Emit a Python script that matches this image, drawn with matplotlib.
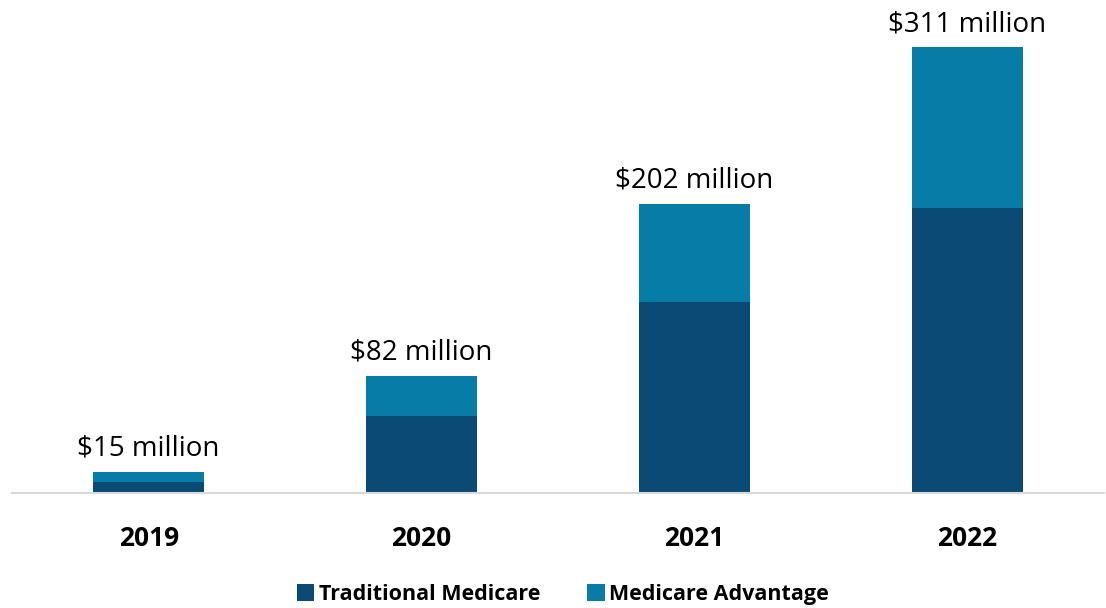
import matplotlib.pyplot as plt

# Data (millions of dollars)
years = ["2019", "2020", "2021", "2022"]
traditional = [8, 54, 133, 199]
advantage = [7, 28, 69, 112]
totals = [15, 82, 202, 311]

plt.rcParams['font.family'] = ['Open Sans', 'DejaVu Sans']

fig = plt.figure(figsize=(11.06, 6.08), dpi=100)
ax = fig.add_axes([0.011, 0.189, 0.987, 0.811])

x = range(len(years))
b1 = ax.bar(x, traditional, width=0.406, color="#0b4a74", label="Traditional Medicare")
b2 = ax.bar(x, advantage, width=0.406, bottom=traditional, color="#067ca6",
            label="Medicare Advantage")

for i, t in enumerate(totals):
    ax.text(i, t + 6, f"${t} million", ha="center", va="bottom", fontsize=20)

ax.set_xlim(-0.5, 3.5)
ax.set_ylim(0, 344)
ax.set_xticks(list(x))
ax.set_xticklabels(years, fontsize=19, fontweight="bold")
ax.tick_params(axis="x", length=0, pad=23)
ax.set_yticks([])
for s in ["top", "left", "right"]:
    ax.spines[s].set_visible(False)
ax.spines["bottom"].set_color("#d9d9d9")
ax.spines["bottom"].set_linewidth(1.5)

fig.legend(handles=[b1, b2], loc="center", bbox_to_anchor=(0.509, 0.022), ncol=2,
           frameon=False, prop={"size": 15.5, "weight": "bold"},
           handlelength=0.8, handleheight=0.8, handletextpad=0.2, columnspacing=2.2)

fig.savefig("out.png", dpi=100)
